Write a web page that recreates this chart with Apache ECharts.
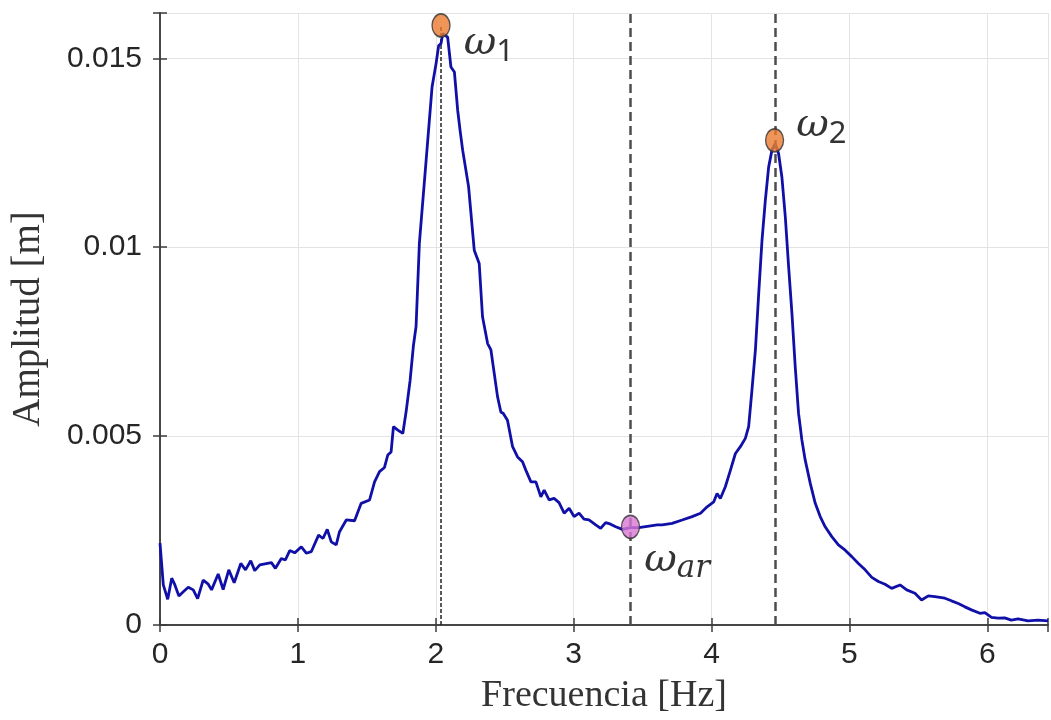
<!DOCTYPE html>
<html lang="es">
<head>
    <meta charset="UTF-8">
    <title>Amplitud vs Frecuencia</title>
    <script src="https://cdn.jsdelivr.net/npm/echarts@6/dist/echarts.min.js"></script>
    <style>
        html, body { margin: 0; padding: 0; background: #fff; }
        #chart { width: 1051px; height: 720px; }
    </style>
</head>
<body>
    <div id="chart"></div>
    <script>
        // frecuencia [Hz] y amplitud [m]
        var freqHz = [0.000, 0.024, 0.056, 0.085, 0.108, 0.137, 0.169, 0.205, 0.241, 0.273,
            0.313, 0.350, 0.374, 0.422, 0.458, 0.499, 0.538, 0.586, 0.620, 0.658,
            0.687, 0.724, 0.808, 0.837, 0.880, 0.909, 0.941, 0.977, 1.025, 1.061,
            1.097, 1.150, 1.182, 1.213, 1.242, 1.278, 1.302, 1.351, 1.411, 1.459,
            1.520, 1.556, 1.592, 1.628, 1.652, 1.676, 1.693, 1.725, 1.761, 1.785,
            1.814, 1.838, 1.857, 1.881, 1.930, 1.973, 2.002, 2.021, 2.038, 2.050,
            2.086, 2.110, 2.135, 2.159, 2.176, 2.195, 2.238, 2.279, 2.315, 2.339,
            2.376, 2.400, 2.424, 2.448, 2.472, 2.490, 2.520, 2.557, 2.593, 2.629,
            2.653, 2.690, 2.726, 2.762, 2.786, 2.822, 2.858, 2.894, 2.931, 2.967,
            3.003, 3.039, 3.075, 3.111, 3.160, 3.196, 3.232, 3.268, 3.305, 3.353,
            3.413, 3.473, 3.546, 3.606, 3.642, 3.714, 3.787, 3.859, 3.920, 3.968,
            4.016, 4.040, 4.064, 4.100, 4.137, 4.173, 4.209, 4.245, 4.269, 4.293,
            4.318, 4.342, 4.366, 4.390, 4.414, 4.438, 4.462, 4.486, 4.510, 4.535,
            4.559, 4.583, 4.607, 4.631, 4.655, 4.679, 4.716, 4.752, 4.788, 4.824,
            4.872, 4.920, 4.969, 5.017, 5.065, 5.114, 5.162, 5.210, 5.258, 5.306,
            5.367, 5.415, 5.475, 5.523, 5.572, 5.620, 5.692, 5.740, 5.789, 5.837,
            5.885, 5.946, 5.982, 6.030, 6.078, 6.126, 6.174, 6.223, 6.295, 6.368,
            6.440];
        var ampM = [0.00217, 0.00106, 0.00068, 0.00124, 0.00106, 0.00077, 0.00088, 0.00100, 0.00093, 0.00070,
            0.00119, 0.00108, 0.00093, 0.00135, 0.00094, 0.00146, 0.00112, 0.00163, 0.00146, 0.00170,
            0.00144, 0.00159, 0.00165, 0.00150, 0.00176, 0.00172, 0.00197, 0.00191, 0.00207, 0.00190,
            0.00194, 0.00238, 0.00229, 0.00253, 0.00220, 0.00212, 0.00247, 0.00278, 0.00276, 0.00322,
            0.00331, 0.00379, 0.00406, 0.00417, 0.00450, 0.00458, 0.00525, 0.00516, 0.00507, 0.00565,
            0.00648, 0.00740, 0.00790, 0.01010, 0.01230, 0.01424, 0.01486, 0.01534, 0.01539, 0.01565,
            0.01556, 0.01477, 0.01464, 0.01362, 0.01310, 0.01257, 0.01160, 0.00992, 0.00957, 0.00816,
            0.00745, 0.00728, 0.00666, 0.00604, 0.00564, 0.00560, 0.00542, 0.00472, 0.00445, 0.00432,
            0.00410, 0.00379, 0.00379, 0.00339, 0.00357, 0.00331, 0.00335, 0.00324, 0.00296, 0.00309,
            0.00287, 0.00296, 0.00280, 0.00278, 0.00265, 0.00256, 0.00271, 0.00267, 0.00260, 0.00253,
            0.00258, 0.00258, 0.00262, 0.00265, 0.00265, 0.00269, 0.00278, 0.00287, 0.00296, 0.00313,
            0.00326, 0.00348, 0.00335, 0.00366, 0.00410, 0.00454, 0.00472, 0.00494, 0.00525, 0.00622,
            0.00728, 0.00878, 0.01019, 0.01124, 0.01212, 0.01257, 0.01274, 0.01248, 0.01186, 0.01080,
            0.00948, 0.00825, 0.00683, 0.00560, 0.00490, 0.00437, 0.00375, 0.00322, 0.00287, 0.00260,
            0.00234, 0.00212, 0.00198, 0.00181, 0.00163, 0.00146, 0.00126, 0.00115, 0.00108, 0.00097,
            0.00106, 0.00093, 0.00084, 0.00066, 0.00077, 0.00075, 0.00071, 0.00064, 0.00057, 0.00048,
            0.00040, 0.00031, 0.00033, 0.00020, 0.00018, 0.00019, 0.00013, 0.00016, 0.00011, 0.00013,
            0.00011];

        // puntos marcados: w1, w2 (resonancias) y war (antirresonancia)
        var resFreq = [2.038, 4.457];
        var resAmp = [0.01587, 0.01283];
        var resLabel = ['1', '2'];
        var antiFreq = [3.412];
        var antiAmp = [0.0026];
        var antiLabel = ['ar'];

        var xMin = 0, xMax = 6.44, xStep = 1;
        var yMin = 0, yMax = 0.0162, yStep = 0.005;

        var chart = echarts.init(document.getElementById('chart'), null, { renderer: 'canvas' });

        var axisCol = '#3c3c3c';
        var richW = {
            w: { fontFamily: 'DejaVu Serif', fontStyle: 'italic', fontSize: 40, lineHeight: 44, verticalAlign: 'top', color: '#000' },
            s: { fontFamily: 'Noto Sans', fontSize: 31, lineHeight: 32, padding: [20, 0, 0, 0], verticalAlign: 'bottom', color: '#000' },
            si: { fontFamily: 'DejaVu Serif', fontStyle: 'italic', fontSize: 31, lineHeight: 32, padding: [20, 0, 0, 0], verticalAlign: 'bottom', color: '#000' }
        };
        // desplazamiento de cada etiqueta respecto a su punto
        var resOffset = [[8, 20], [7, -13]];
        var antiOffset = [[-1, 36]];

        var curve = freqHz.map(function (f, i) { return [f, ampM[i]]; });

        function tickFmt(step) {
            return function (v) {
                var k = v / step;
                return Math.abs(k - Math.round(k)) < 1e-6 ? String(v) : '';
            };
        }

        var option = {
            animation: false,
            grid: { left: 160, right: 1, top: 13, bottom: 95 },
            xAxis: [{
                type: 'value', min: xMin, max: xMax, interval: xStep,
                name: 'Frecuencia [Hz]', nameLocation: 'middle', nameGap: 52,
                nameTextStyle: { fontFamily: 'Liberation Serif', fontSize: 38, color: '#333' },
                axisLine: { show: true, lineStyle: { color: axisCol, width: 1.5 } },
                axisTick: { show: true, inside: true, length: 7, lineStyle: { color: axisCol, width: 1.5 } },
                axisLabel: { margin: 15, fontFamily: 'Liberation Sans', fontSize: 30, color: '#262626',
                    formatter: tickFmt(xStep) },
                splitLine: { show: true, lineStyle: { color: '#e3e3e3', width: 1 } }
            }, {
                type: 'value', position: 'top', min: xMin, max: xMax, interval: xStep,
                axisLine: { show: true, lineStyle: { color: axisCol, width: 1.5 } },
                axisTick: { show: true, inside: true, length: 7, lineStyle: { color: axisCol, width: 1.5 } },
                axisLabel: { show: false },
                splitLine: { show: false }
            }],
            yAxis: [{
                type: 'value', min: yMin, max: yMax, interval: yStep,
                name: 'Amplitud [m]', nameLocation: 'middle', nameGap: 112,
                nameTextStyle: { fontFamily: 'Liberation Serif', fontSize: 39, color: '#333' },
                axisLine: { show: true, lineStyle: { color: axisCol, width: 1.5 } },
                axisTick: { show: true, inside: true, length: 7, lineStyle: { color: axisCol, width: 1.5 } },
                axisLabel: { margin: 18, fontFamily: 'Liberation Sans', fontSize: 30, color: '#262626',
                    formatter: tickFmt(yStep) },
                splitLine: { show: true, lineStyle: { color: '#e3e3e3', width: 1 } }
            }, {
                type: 'value', position: 'right', min: yMin, max: yMax, interval: yStep,
                axisLine: { show: true, lineStyle: { color: axisCol, width: 1.5 } },
                axisTick: { show: true, inside: true, length: 7, lineStyle: { color: axisCol, width: 1.5 } },
                axisLabel: { show: false },
                splitLine: { show: false }
            }],
            series: [
                {
                    name: 'Amplitud',
                    type: 'line',
                    data: curve,
                    showSymbol: false,
                    lineStyle: { color: '#1010a8', width: 2.8 },
                    z: 3,
                    markLine: {
                        silent: true,
                        symbol: 'none',
                        label: { show: false },
                        lineStyle: { color: '#4d4d4d', width: 2.5, type: [9, 5] },
                        data: [{ xAxis: antiFreq[0] }, { xAxis: resFreq[1] }]
                    }
                },
                {
                    // linea fina bajo w1
                    type: 'line',
                    data: [[resFreq[0], 0], [resFreq[0], resAmp[0]]],
                    showSymbol: false,
                    lineStyle: { color: '#222', width: 1.5, type: [4, 2] },
                    z: 2
                },
                {
                    type: 'scatter',
                    data: resFreq.map(function (f, i) {
                        return { value: [f, resAmp[i]], label: { offset: resOffset[i] } };
                    }),
                    symbol: 'circle',
                    symbolSize: [18, 23],
                    itemStyle: { color: '#EB7A30', borderColor: '#333', borderWidth: 1.5 },
                    z: 5,
                    label: {
                        show: true,
                        position: 'right',
                        distance: 5,
                        formatter: function (p) { return '{w|ω}{s|' + resLabel[p.dataIndex] + '}'; },
                        rich: richW
                    }
                },
                {
                    type: 'scatter',
                    data: antiFreq.map(function (f, i) {
                        return { value: [f, antiAmp[i]], label: { offset: antiOffset[i] } };
                    }),
                    symbol: 'circle',
                    symbolSize: [18, 23],
                    itemStyle: { color: '#D977D3', borderColor: '#333', borderWidth: 1.5 },
                    z: 5,
                    label: {
                        show: true,
                        position: 'right',
                        distance: 5,
                        formatter: function (p) { return '{w|ω}{si|' + antiLabel[p.dataIndex] + '}'; },
                        rich: richW
                    }
                }
            ]
        };

        chart.setOption(option);
    </script>
</body>
</html>
